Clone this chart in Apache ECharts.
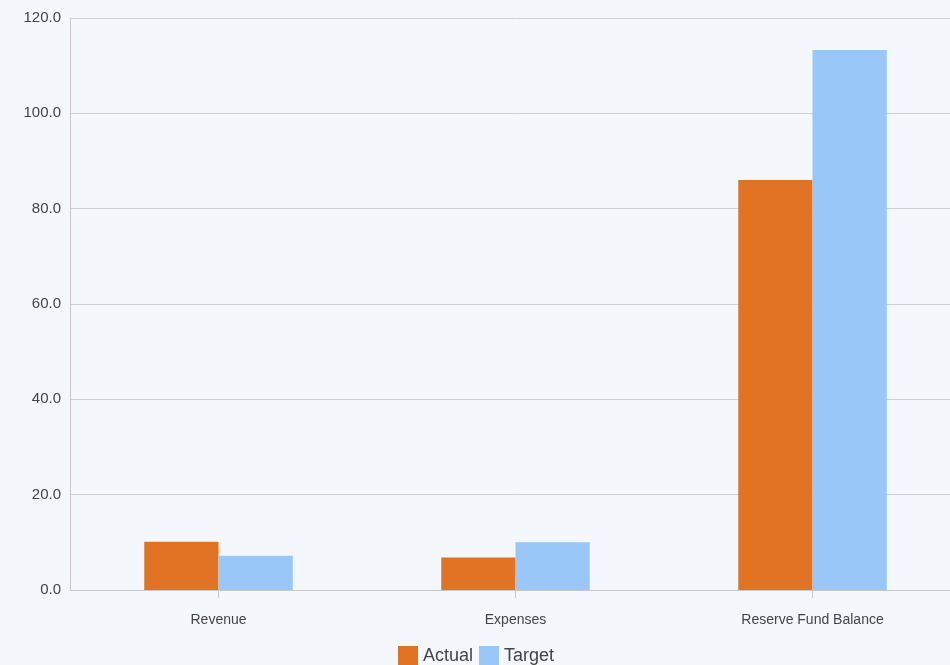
<!DOCTYPE html>
<html>
<head>
<meta charset="UTF-8">
<script src="https://cdn.jsdelivr.net/npm/echarts@6/dist/echarts.min.js"></script>
<style>
  html, body { margin: 0; padding: 0; background: #f4f8fc; overflow: hidden; }
  /* plot runs past the right edge in the original, so the canvas is a bit wider than the window */
  #chart { width: 961px; height: 665px; }
</style>
</head>
<body>
<div id="chart"></div>
<script>
  var categories = ['Revenue', 'Expenses', 'Reserve Fund Balance'];
  var actual = [10.1, 6.8, 86.0];
  var target = [7.2, 10.0, 113.3];
  var yTicks = [0, 20, 40, 60, 80, 100, 120];

  var chart = echarts.init(document.getElementById('chart'));
  chart.setOption({
    backgroundColor: '#f4f8fc',
    animation: false,
    grid: { left: 70, right: 0, top: 18, bottom: 75, containLabel: false },
    legend: {
      top: 641,
      left: 393,
      itemWidth: 20,
      itemHeight: 20,
      itemGap: 6,
      icon: 'rect',
      textStyle: { fontSize: 18, color: '#444', fontFamily: 'Liberation Sans' },
      data: ['Actual', 'Target']
    },
    xAxis: {
      type: 'category',
      data: categories,
      axisLine: { lineStyle: { color: '#c8c8c8' } },
      axisTick: { show: true, alignWithLabel: true, length: 8, lineStyle: { color: '#c8c8c8' } },
      axisLabel: { color: '#444', fontSize: 14, fontFamily: 'Liberation Sans', margin: 23 }
    },
    yAxis: {
      type: 'value',
      min: yTicks[0],
      max: yTicks[yTicks.length - 1],
      interval: 20,
      axisLine: { show: true, lineStyle: { color: '#c8c8c8' } },
      axisTick: { show: false },
      splitLine: { lineStyle: { color: '#cfcfcf' } },
      axisLabel: {
        color: '#444', fontSize: 15, fontFamily: 'Liberation Sans', margin: 9,
        formatter: function (v) { return v.toFixed(1); }
      }
    },
    series: [
      { name: 'Actual', type: 'bar', data: actual, barGap: '0%', barCategoryGap: '50%',
        itemStyle: { color: '#e07424' } },
      { name: 'Target', type: 'bar', data: target, barGap: '0%', barCategoryGap: '50%',
        itemStyle: { color: '#99c7f7' } }
    ]
  });
</script>
</body>
</html>
